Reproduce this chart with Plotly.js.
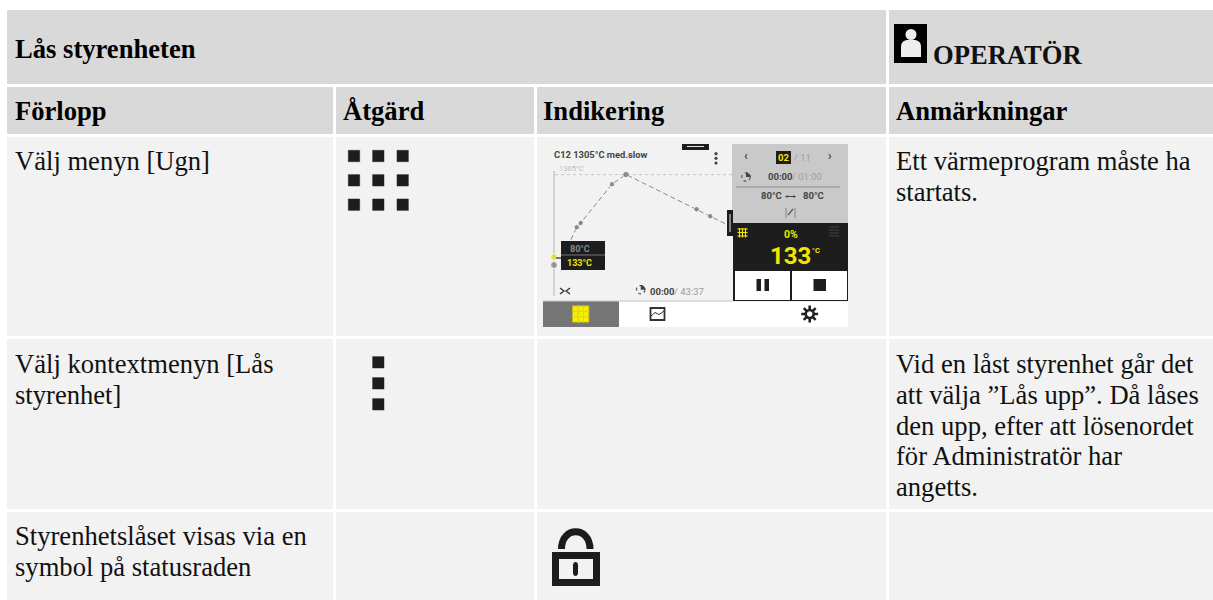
<!DOCTYPE html>
<html><head><meta charset="utf-8">
<script src="https://cdn.plot.ly/plotly-3.0.1.min.js"></script>
<style>html,body{margin:0;padding:0;background:#fff;overflow:hidden}#c{width:1213px;height:600px}</style>
</head><body><div id="c"></div>
<script>
const SERIF = '"Liberation Serif","Times New Roman",serif';
const UI = 'Roboto,sans-serif';

// table text
const title = 'Lås styrenheten';
const role = 'OPERATÖR';
const headers = ['Förlopp', 'Åtgärd', 'Indikering', 'Anmärkningar'];
const step1 = ['Välj menyn [Ugn]'];
const step2 = ['Välj kontextmenyn [Lås', 'styrenhet]'];
const step3 = ['Styrenhetslåset visas via en', 'symbol på statusraden'];
const note1 = ['Ett värmeprogram måste ha', 'startats.'];
const note2 = ['Vid en låst styrenhet går det', 'att välja ”Lås upp”. Då låses', 'den upp, efter att lösenordet', 'för Administratör har', 'angetts.'];

// firing curve in the screenshot: percent of program time, temperature
const programTime = [9.9, 13.3, 15.6, 33.9, 42.1, 83.4, 91.4, 100];
const programTemp = [420, 589, 647, 1173, 1305, 833, 738, 638];

const colX = [7, 336, 537, 889];
const colEnd = [333, 534, 886, 1213];
const shapes = [];
const ann = [];
function rect(x0, y0, x1, y1, fill, layer, line) {
  shapes.push({type:'rect', xref:'x', yref:'y', x0, y0, x1, y1, fillcolor:fill, layer:layer||'below',
    line: line ? line : {width:0}});
}
function path(d, fill, layer, lineColor, lineW) {
  shapes.push({type:'path', xref:'x', yref:'y', path:d, fillcolor:fill||'rgba(0,0,0,0)', layer:layer||'above',
    line:{width:lineW||0, color:lineColor||'rgba(0,0,0,0)'}});
}
function seg(x0, y0, x1, y1, color, w, layer, dash) {
  shapes.push({type:'line', xref:'x', yref:'y', x0, y0, x1, y1, layer:layer||'above', line:{color, width:w, dash:dash||'solid'}});
}
function text(s, x, y, size, color, bold, family, anchor) {
  ann.push({xref:'x', yref:'y', x, y, text: bold ? '<b>'+s+'</b>' : s, showarrow:false, xanchor:anchor||'left', yanchor:'middle',
    align:anchor||'left', borderpad:0, font:{family:family||SERIF, size, color}});
}
function clock(cx, cy) {
  shapes.push({type:'circle', xref:'x', yref:'y', x0:cx-4.2, x1:cx+4.2, y0:cy-4.2, y1:cy+4.2, layer:'above',
    fillcolor:'rgba(0,0,0,0)', line:{width:1.2, color:'#555', dash:'dot'}});
  path(`M${cx} ${cy} L${cx} ${cy-4.6} C${cx+3} ${cy-4.6} ${cx+4.6} ${cy-2} ${cx+4.6} ${cy} Z`, '#444');
}

// table cells
rect(7, 10, 886, 84, '#d9d9d9');
rect(889, 10, 1213, 84, '#d9d9d9');
[[137,336],[339,509],[512,600]].forEach(r => colX.forEach((x,i) => rect(x, r[0], colEnd[i], r[1], '#f2f2f2')));
colX.forEach((x,i) => rect(x, 87, colEnd[i], 134, '#d9d9d9'));

// texts
const F = 26.6, M = 8;   // font size; middle of a line above its baseline
text(title, 14.2, 56.6 - M, F, '#000', true);
text(role, 931.7, 63.3 - M, F, '#111', true);
headers.forEach((h,i) => text(h, [14.2,342,542,895][i], 119.3 - M, F, '#000', true));
step1.forEach((s,i) => text(s, 14.2, 169 - M, F, '#111'));
step2.forEach((s,i) => text(s, 14.2, 372.3 - M + i*30.67, F, '#111'));
step3.forEach((s,i) => text(s, 14.2, 544 - M + i*30.67, F, '#111'));
note1.forEach((s,i) => text(s, 895, 169 - M + i*30.67, F, '#111'));
note2.forEach((s,i) => text(s, 895, 372.3 - M + i*30.67, F, '#111'));

// operator icon
rect(894, 24, 927, 63, '#000', 'above');
path('M901 57 L901 47 C901 42 904 40 908 40 L914 40 C918 40 921 42 921 47 L921 57 Z', '#eee');
shapes.push({type:'circle', xref:'x', yref:'y', x0:905.5, x1:916.5, y0:29, y1:40, fillcolor:'#eee', line:{width:0}, layer:'above'});

// lock icon
rect(552, 552, 600, 586, '#1c1c1c', 'above');
rect(559, 559, 593, 579, '#f2f2f2', 'above');
path('M573 565 C573 561 578 561 578 565 L578 573 C578 577 573 577 573 573 Z', '#1c1c1c');
path('M561.5 549 C561.5 526 590 526 590 549', null, 'above', '#1c1c1c', 7);

// screenshot: background panels
rect(543, 144, 732, 301, '#f2f2f2');
rect(732, 144, 848, 223, '#c9c9c9');
rect(733, 223, 848, 301, '#1d1d1d');
rect(735, 271, 790, 300, '#fff');
rect(792, 271, 847, 300, '#fff');
rect(543, 301, 619, 327, '#757575');
rect(619, 302, 848, 327, '#fff');
seg(543, 301, 733, 301, '#c9c9c9', 1, 'below');
seg(554, 171, 554, 296, '#c8c8c8', 1.5, 'below');
seg(555, 174.6, 732, 174.6, '#c4c4c4', 1, 'below', 'dot');

// screenshot tabs
rect(682, 144, 709, 150, '#1d1d1d', 'above');
seg(687, 146.5, 704, 146.5, '#e8e8e8', 1);
rect(727, 210, 733, 236, '#1d1d1d', 'above');
seg(730, 214, 730, 232, '#e8e8e8', 1);

// temperature tag
rect(561, 241, 605, 270, '#1d1d1d', 'above');
seg(561, 255, 605, 255, '#777', 1);
seg(556, 258, 561, 258, '#777', 2);
text('80°C', 580, 248.5, 9, '#8a8a8a', true, UI, 'center');
text('133°C', 579.5, 262.5, 9, '#f2e600', true, UI, 'center');

// screenshot text
text('C12 1305°C med.slow', 552.5, 154, 9.4, '#444', true, UI);
text('1305°C', 558, 168.3, 7.5, '#bbb', false, UI);
text('‹', 746, 156, 12, '#444', true, UI, 'center');
rect(776, 151, 791, 164, '#1d1d1d', 'above');
text('02', 783.5, 157.5, 9.5, '#f2e600', true, UI, 'center');
text('/ 11', 793, 157.5, 9.5, '#a0a0a0', false, UI);
text('›', 830, 156, 12, '#444', true, UI, 'center');
text('00:00', 767, 176.5, 9.5, '#444', true, UI);
text('/ 01:00', 791, 176.5, 9.5, '#a0a0a0', false, UI);
seg(736, 187, 840, 187, '#8c8c8c', 1);
text('80°C', 760, 195.5, 9.5, '#444', true, UI);
text('80°C', 801.5, 195.5, 9.5, '#444', true, UI);
seg(786, 196.5, 795, 196.5, '#444', 1);
path('M785 196.5 L787.5 195 L787.5 198 Z', '#444');
path('M796 196.5 L793.5 195 L793.5 198 Z', '#444');
seg(786, 208, 786, 218, '#777', 0.8);
seg(795, 208, 795, 218, '#777', 0.8);
seg(788, 215, 793, 209, '#555', 1.2);
text('0%', 790.5, 234, 10.5, '#f2e600', true, UI, 'center');
text('133', 790, 256, 24, '#f2e600', true, UI, 'center');
text('°C', 811, 250, 7.5, '#f2e600', true, UI, 'left');
text('00:00', 649, 291.5, 9.5, '#444', true, UI);
text('/ 43:37', 673, 291.5, 9.5, '#9a9a9a', false, UI);
clock(746, 177);
clock(640.7, 289.7);

// pause / stop
rect(756.5, 279, 761, 291, '#1d1d1d', 'above');
rect(764.5, 279, 769, 291, '#1d1d1d', 'above');
rect(813.5, 279, 826, 291, '#1d1d1d', 'above');

// heating grid icon
[229,232.5,236].forEach(y => seg(737.5, y, 747.5, y, '#f2e600', 1.2));
[739.5,742.5,745.5].forEach(x => seg(x, 228, x, 237.5, '#f2e600', 1));
// coil icon
[227,230,233,236].forEach(y => seg(829, y, 839, y, '#444', 1));
// collapse icon
path('M560 288 L564 291 L560 294', null, 'above', '#333', 1.3);
path('M570 288 L566 291 L570 294', null, 'above', '#333', 1.3);
// chart icon in the nav bar
rect(650.5, 308, 664.5, 320, '#fff', 'above', {color:'#333', width:1.8});
path('M651 316 L655 312.5 L659 314.5 L664 311', null, 'above', '#333', 1);

const iconGridX = [354, 378.3, 402.7, 354, 378.3, 402.7, 354, 378.3, 402.7];
const iconGridY = [156, 156, 156, 180.3, 180.3, 180.3, 204.7, 204.7, 204.7];
const iconDotsX = [378.3, 378.3, 378.3];
const iconDotsY = [362.3, 383.3, 404.3];
const sunX = [575.3, 580.7, 586.1, 575.3, 580.7, 586.1, 575.3, 580.7, 586.1];
const sunY = [308.6, 308.6, 308.6, 314, 314, 314, 319.4, 319.4, 319.4];
const menuX = [716, 716, 716];
const menuY = [153.7, 158.3, 163];

const iconEdge = {width:1, color:'rgba(29,29,29,0.35)'};
const traces = [
  {x:iconGridX, y:iconGridY, mode:'markers', marker:{symbol:'square', size:11.5, color:'#1d1d1d', line:iconEdge}},
  {x:iconDotsX, y:iconDotsY, mode:'markers', marker:{symbol:'square', size:11.5, color:'#1d1d1d', line:iconEdge}},
  {x:sunX, y:sunY, mode:'markers', marker:{symbol:'square', size:6.5, color:'rgba(245,234,0,0.55)'}},
  {x:sunX, y:sunY, mode:'markers', marker:{symbol:'square', size:4.6, color:'#f8ee00'}},
  {x:menuX, y:menuY, mode:'markers', marker:{symbol:'circle', size:3.2, color:'#444'}},
  {x:[809.7], y:[314], mode:'markers', marker:{symbol:'asterisk-open', size:14, color:'#222', line:{width:2.6, color:'#222'}}},
  {x:[809.7], y:[314], mode:'markers', marker:{symbol:'circle', size:8, color:'#fff', line:{width:2.6, color:'#222'}}},
  {x:[554, 554], y:[265, 257], mode:'markers', marker:{symbol:'circle', size:[7,7], color:['#777','#e8dc10']}},
  {x:programTime, y:programTemp, xaxis:'x2', yaxis:'y2', mode:'lines', line:{color:'#888', width:1, dash:'5px 3px'}, cliponaxis:false},
  {x:programTime, y:programTemp, xaxis:'x2', yaxis:'y2', mode:'markers', marker:{symbol:'circle', size:[0,5.5,5.5,5.5,6.5,5.5,5.5,0], color:'#666'}, cliponaxis:false}
];

const W = 1213, H = 600;
const hidden = {showgrid:false, zeroline:false, showticklabels:false, ticks:'', showline:false, fixedrange:true};
const layout = {
  width:W, height:H, margin:{l:0,r:0,t:0,b:0}, paper_bgcolor:'#fff', plot_bgcolor:'rgba(0,0,0,0)', showlegend:false,
  xaxis:Object.assign({range:[0,W], domain:[0,1]}, hidden),
  yaxis:Object.assign({range:[H,0], domain:[0,1]}, hidden),
  xaxis2:Object.assign({range:[0,100], domain:[554/W, 725/W], anchor:'y2'}, hidden),
  yaxis2:Object.assign({range:[80,1305], domain:[1-264.7/H, 1-174.5/H], anchor:'x2'}, hidden),
  shapes, annotations:ann, hovermode:false
};
Plotly.newPlot('c', traces, layout, {staticPlot:true, displayModeBar:false});
</script></body></html>
